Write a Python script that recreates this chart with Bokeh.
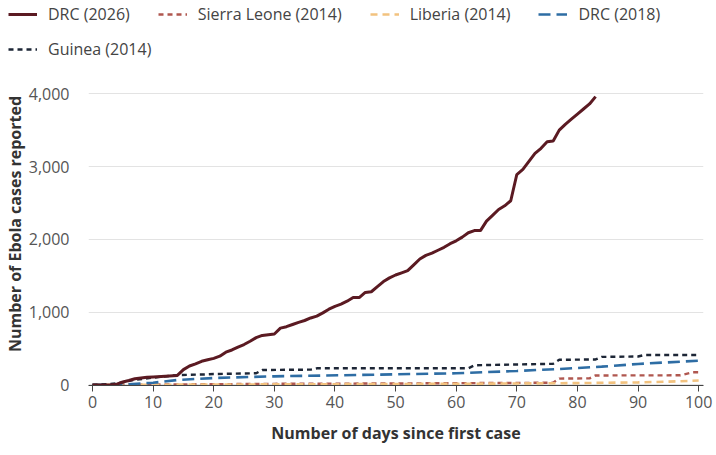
from bokeh.plotting import figure
from bokeh.models import Range1d, Legend, LegendItem, FixedTicker, NumeralTickFormatter
from bokeh.embed import file_html
from bokeh.resources import INLINE

# ---- data ----
drc2026_days = [0, 3, 4, 5, 6, 7, 8, 9, 10, 12, 14, 15, 16, 17, 18, 19, 20, 21, 22, 23, 24, 25, 26, 27, 28, 29, 30,
                31, 32, 33, 34, 35, 36, 37, 38, 39, 40, 41, 42, 43, 44, 45, 46, 47, 48, 49, 50, 51, 52, 53, 54, 55,
                56, 57, 58, 59, 60, 61, 62, 63, 64, 65, 66, 67, 68, 69, 70, 71, 72, 73, 74, 75, 76, 77, 78, 79, 80,
                81, 82, 83]
drc2026_cases = [0, 0, 10, 40, 60, 85, 95, 105, 110, 120, 130, 210, 260, 290, 325, 345, 365, 395, 450, 480, 520, 555,
                 600, 650, 680, 690, 700, 780, 800, 830, 860, 885, 920, 945, 990, 1040, 1080, 1110, 1150, 1200, 1200,
                 1270, 1280, 1350, 1420, 1470, 1510, 1540, 1570, 1650, 1730, 1780, 1810, 1850, 1890, 1940, 1980, 2030,
                 2090, 2120, 2120, 2250, 2330, 2410, 2460, 2530, 2890, 2960, 3070, 3180, 3250, 3340, 3350, 3500, 3580,
                 3650, 3720, 3790, 3860, 3960]

guinea_days = [0, 4, 7, 10, 14, 19, 20, 27, 28, 36, 37, 62, 63, 76, 77, 83, 84, 90, 91, 100]
guinea_cases = [0, 20, 70, 100, 135, 145, 150, 160, 205, 210, 228, 228, 270, 290, 345, 350, 385, 390, 410, 410]

drc2018_days = [0, 5, 10, 14, 20, 30, 44, 60, 70, 77, 84, 90, 100]
drc2018_cases = [0, 5, 30, 68, 95, 118, 137, 160, 192, 219, 251, 288, 333]

sl_days = [0, 10, 30, 50, 76, 77, 82, 83, 97, 99, 100]
sl_cases = [0, 5, 15, 20, 30, 87, 90, 130, 132, 175, 175]

lib_days = [0, 20, 40, 60, 80, 90, 95, 100]
lib_cases = [0, 5, 10, 15, 25, 35, 45, 60]

series_names = ["DRC (2026)", "Sierra Leone (2014)", "Liberia (2014)", "DRC (2018)", "Guinea (2014)"]

x_ticks = [0, 10, 20, 30, 40, 50, 60, 70, 80, 90, 100]
y_ticks = [0, 1000, 2000, 3000, 4000]

FONT = "Open Sans"
W = 716

styles = {
    "DRC (2026)": dict(line_color="#5b1a22", line_width=3),
    "Sierra Leone (2014)": dict(line_color="#b0574f", line_width=2.4, line_dash="5 4"),
    "Liberia (2014)": dict(line_color="#f2c27f", line_width=2.6, line_dash="7 5"),
    "DRC (2018)": dict(line_color="#2e6da4", line_width=2.6, line_dash="12 6"),
    "Guinea (2014)": dict(line_color="#1d2636", line_width=2.4, line_dash="5 4"),
}

# ---------------- legend strip (separate root, no frame alignment) ----------------
lf = figure(width=W, height=62, output_backend="svg", toolbar_location=None,
            x_range=Range1d(0, 1), y_range=Range1d(0, 1), x_axis_type=None, y_axis_type=None,
            min_border_left=0, min_border_right=0, min_border_top=0, min_border_bottom=0)
lf.outline_line_color = None
lf.grid.grid_line_color = None
lf.background_fill_color = "white"
lf.border_fill_color = "white"

dummy = {}
for name in series_names:
    dummy[name] = lf.line([5, 6], [5, 6], **styles[name])


def make_legend(names, loc):
    lg = Legend(items=[LegendItem(label=n, renderers=[dummy[n]]) for n in names], location=loc)
    lg.orientation = "horizontal"
    lg.background_fill_alpha = 0
    lg.border_line_color = None
    lg.padding = 0
    lg.margin = 0
    lg.spacing = 28
    lg.glyph_width = 29
    lg.glyph_height = 20
    lg.label_height = 20
    lg.label_standoff = 11
    lg.label_text_font = FONT
    lg.label_text_font_size = "16px"
    lg.label_text_color = "#444444"
    return lg


lf.add_layout(make_legend(series_names[:4], (8, 37)), "center")
lf.add_layout(make_legend(series_names[4:], (8, 2)), "center")

# ---------------- main chart ----------------
p = figure(width=W, height=393, output_backend="svg", toolbar_location=None,
           x_range=Range1d(-0.66, 100.8), y_range=Range1d(-8, 4429),
           min_border_left=88, min_border_right=13, min_border_bottom=70, min_border_top=0)
p.outline_line_color = None
p.background_fill_color = "white"
p.border_fill_color = "white"

p.xgrid.grid_line_color = None
p.ygrid.grid_line_color = "#e3e3e3"
p.ygrid.grid_line_width = 1.2

p.line(sl_days, sl_cases, **styles["Sierra Leone (2014)"])
p.line(lib_days, lib_cases, **styles["Liberia (2014)"])
p.line(drc2018_days, drc2018_cases, **styles["DRC (2018)"])
p.line(guinea_days, guinea_cases, **styles["Guinea (2014)"])
p.line(drc2026_days, drc2026_cases, **styles["DRC (2026)"])

xa = p.xaxis[0]
xa.ticker = FixedTicker(ticks=x_ticks)
xa.axis_label = "Number of days since first case"
xa.axis_label_text_font = FONT
xa.axis_label_text_font_style = "bold"
xa.axis_label_text_font_size = "16px"
xa.axis_label_text_color = "#333333"
xa.axis_label_standoff = 11
xa.major_label_text_font = FONT
xa.major_label_text_font_size = "16px"
xa.major_label_text_color = "#555555"
xa.major_label_standoff = 4
xa.axis_line_color = "#444444"
xa.axis_line_width = 1.2
xa.major_tick_line_color = "#444444"
xa.major_tick_out = 6
xa.major_tick_in = 0
xa.minor_tick_line_color = None

ya = p.yaxis[0]
ya.ticker = FixedTicker(ticks=y_ticks)
ya.formatter = NumeralTickFormatter(format="0,0")
ya.axis_label = "Number of Ebola cases reported"
ya.axis_label_text_font = FONT
ya.axis_label_text_font_style = "bold"
ya.axis_label_text_font_size = "16px"
ya.axis_label_text_color = "#333333"
ya.axis_label_standoff = 0
ya.major_label_text_font = FONT
ya.major_label_text_font_size = "16px"
ya.major_label_text_color = "#555555"
ya.major_label_standoff = 13
ya.axis_line_color = None
ya.major_tick_line_color = None
ya.minor_tick_line_color = None

open("out.html", "w").write(file_html([lf, p], INLINE))
